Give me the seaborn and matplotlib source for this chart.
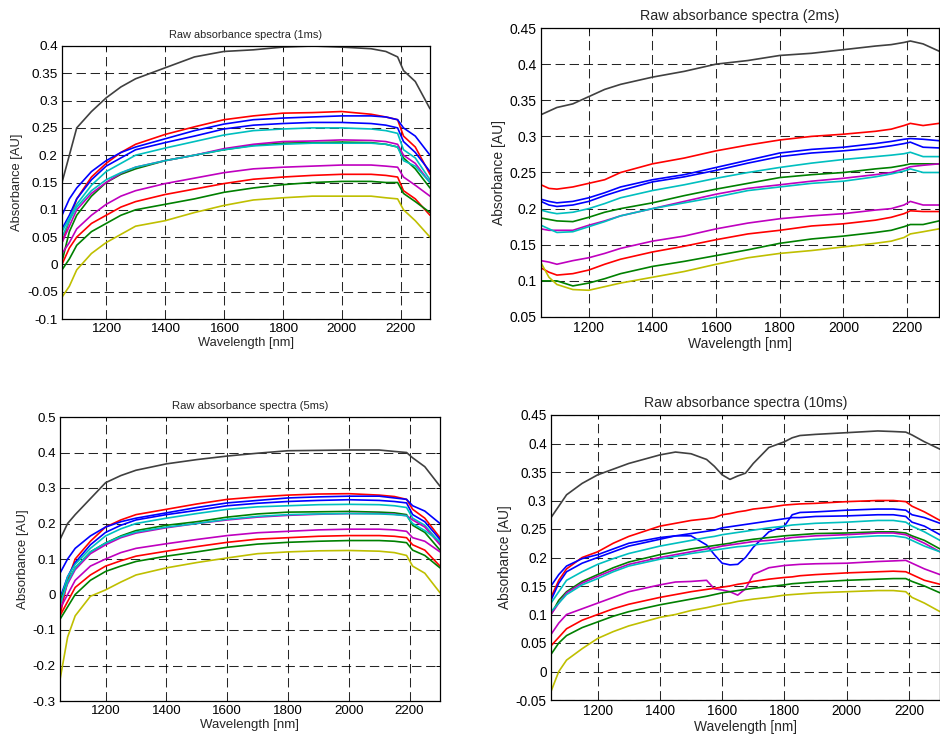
import numpy as np
import pandas as pd
import matplotlib
matplotlib.use("Agg")
import matplotlib.pyplot as plt
from matplotlib.ticker import FuncFormatter
import seaborn as sns

# ---------------- data ----------------
series_names = ["gray", "red1", "blue1", "blue2", "cyan1", "green1",
                "magenta1", "cyan2", "magenta2", "red2", "green2", "yellow"]
series_colors = ["#404040", "#ff0000", "#0000ff", "#0000ff", "#00bfbf", "#008000",
                 "#bf00bf", "#00bfbf", "#bf00bf", "#ff0000", "#008000", "#bfbf00"]

wl_a = [1050, 1075, 1100, 1150, 1200, 1250, 1300, 1400, 1500, 1600, 1700,
        1800, 1900, 2000, 2100, 2150, 2190, 2210, 2250, 2300]

# 1 ms
p1_gray = [0.15, 0.2, 0.25, 0.28, 0.305, 0.325, 0.34, 0.36, 0.38, 0.39, 0.393, 0.398, 0.40, 0.398, 0.395, 0.39, 0.38, 0.355, 0.335, 0.285]
p1_red1 = [0.04, 0.08, 0.12, 0.16, 0.185, 0.205, 0.22, 0.238, 0.252, 0.265, 0.272, 0.277, 0.278, 0.28, 0.275, 0.27, 0.265, 0.235, 0.215, 0.165]
p1_blue1 = [0.09, 0.12, 0.14, 0.17, 0.19, 0.205, 0.215, 0.23, 0.245, 0.257, 0.265, 0.268, 0.27, 0.272, 0.272, 0.27, 0.265, 0.25, 0.235, 0.20]
p1_blue2 = [0.065, 0.09, 0.12, 0.155, 0.18, 0.195, 0.21, 0.223, 0.235, 0.248, 0.255, 0.258, 0.26, 0.26, 0.258, 0.255, 0.25, 0.225, 0.205, 0.17]
p1_cyan1 = [0.06, 0.085, 0.11, 0.145, 0.17, 0.185, 0.2, 0.213, 0.225, 0.237, 0.245, 0.248, 0.25, 0.25, 0.248, 0.245, 0.24, 0.21, 0.195, 0.155]
p1_green1 = [0.005, 0.06, 0.09, 0.125, 0.15, 0.165, 0.175, 0.19, 0.2, 0.21, 0.218, 0.222, 0.223, 0.224, 0.223, 0.22, 0.215, 0.195, 0.175, 0.14]
p1_magenta1 = [0.04, 0.07, 0.1, 0.13, 0.15, 0.167, 0.178, 0.19, 0.2, 0.212, 0.22, 0.225, 0.226, 0.228, 0.227, 0.225, 0.22, 0.2, 0.185, 0.15]
p1_cyan2 = [0.05, 0.08, 0.105, 0.135, 0.155, 0.168, 0.178, 0.19, 0.2, 0.21, 0.217, 0.22, 0.222, 0.222, 0.222, 0.22, 0.215, 0.19, 0.18, 0.15]
p1_magenta2 = [0.02, 0.04, 0.065, 0.09, 0.11, 0.125, 0.135, 0.148, 0.158, 0.168, 0.175, 0.178, 0.18, 0.182, 0.182, 0.18, 0.178, 0.16, 0.145, 0.125]
p1_red2 = [0.0, 0.03, 0.05, 0.075, 0.09, 0.105, 0.115, 0.128, 0.138, 0.148, 0.156, 0.16, 0.163, 0.165, 0.165, 0.163, 0.16, 0.135, 0.12, 0.09]
p1_green2 = [-0.01, 0.01, 0.035, 0.06, 0.075, 0.09, 0.1, 0.11, 0.12, 0.132, 0.14, 0.146, 0.15, 0.152, 0.152, 0.15, 0.15, 0.13, 0.115, 0.095]
p1_yellow = [-0.06, -0.04, -0.01, 0.02, 0.04, 0.055, 0.07, 0.08, 0.095, 0.108, 0.118, 0.122, 0.125, 0.125, 0.125, 0.122, 0.12, 0.1, 0.08, 0.05]

# 2 ms
p2_gray = [0.33, 0.335, 0.34, 0.345, 0.355, 0.365, 0.372, 0.382, 0.39, 0.40, 0.405, 0.412, 0.415, 0.42, 0.425, 0.427, 0.43, 0.432, 0.428, 0.418]
p2_red1 = [0.233, 0.228, 0.227, 0.23, 0.235, 0.24, 0.25, 0.262, 0.27, 0.28, 0.288, 0.295, 0.30, 0.303, 0.307, 0.31, 0.315, 0.318, 0.315, 0.318]
p2_blue1 = [0.213, 0.21, 0.208, 0.21, 0.215, 0.222, 0.23, 0.24, 0.247, 0.257, 0.267, 0.277, 0.282, 0.285, 0.29, 0.293, 0.296, 0.297, 0.296, 0.294]
p2_blue2 = [0.21, 0.205, 0.203, 0.205, 0.21, 0.218, 0.225, 0.237, 0.244, 0.253, 0.263, 0.272, 0.277, 0.28, 0.284, 0.287, 0.29, 0.292, 0.285, 0.284]
p2_cyan1 = [0.198, 0.195, 0.193, 0.195, 0.2, 0.207, 0.215, 0.225, 0.233, 0.242, 0.25, 0.257, 0.263, 0.268, 0.272, 0.274, 0.276, 0.278, 0.272, 0.272]
p2_green1 = [0.187, 0.185, 0.183, 0.182, 0.188, 0.195, 0.2, 0.208, 0.218, 0.227, 0.235, 0.243, 0.247, 0.25, 0.255, 0.257, 0.26, 0.262, 0.262, 0.262]
p2_magenta1 = [0.172, 0.17, 0.17, 0.17, 0.177, 0.183, 0.19, 0.2, 0.21, 0.22, 0.228, 0.233, 0.238, 0.242, 0.247, 0.25, 0.255, 0.258, 0.26, 0.262]
p2_cyan2 = [0.177, 0.172, 0.167, 0.168, 0.175, 0.182, 0.19, 0.2, 0.208, 0.216, 0.225, 0.23, 0.235, 0.238, 0.244, 0.248, 0.252, 0.255, 0.25, 0.25]
p2_magenta2 = [0.128, 0.126, 0.123, 0.128, 0.132, 0.138, 0.145, 0.155, 0.162, 0.172, 0.18, 0.186, 0.19, 0.193, 0.198, 0.2, 0.205, 0.21, 0.205, 0.205]
p2_red2 = [0.118, 0.112, 0.108, 0.11, 0.115, 0.123, 0.13, 0.14, 0.148, 0.157, 0.165, 0.17, 0.176, 0.179, 0.184, 0.188, 0.193, 0.197, 0.196, 0.196]
p2_green2 = [0.1, 0.1, 0.1, 0.093, 0.097, 0.103, 0.11, 0.12, 0.127, 0.135, 0.143, 0.152, 0.158, 0.162, 0.167, 0.17, 0.175, 0.178, 0.178, 0.183]
p2_yellow = [0.125, 0.105, 0.095, 0.088, 0.087, 0.092, 0.097, 0.105, 0.113, 0.123, 0.132, 0.138, 0.142, 0.147, 0.152, 0.155, 0.16, 0.165, 0.168, 0.172]

# 5 ms
p3_gray = [0.155, 0.2, 0.225, 0.27, 0.315, 0.335, 0.35, 0.368, 0.38, 0.39, 0.398, 0.405, 0.406, 0.407, 0.407, 0.403, 0.4, 0.385, 0.36, 0.305]
p3_red1 = [-0.06, 0.04, 0.1, 0.15, 0.19, 0.21, 0.225, 0.24, 0.255, 0.268, 0.275, 0.28, 0.283, 0.284, 0.28, 0.276, 0.268, 0.24, 0.215, 0.16]
p3_blue1 = [0.06, 0.1, 0.13, 0.165, 0.19, 0.205, 0.215, 0.23, 0.245, 0.258, 0.265, 0.272, 0.275, 0.277, 0.277, 0.272, 0.268, 0.25, 0.235, 0.2]
p3_blue2 = [-0.01, 0.05, 0.09, 0.14, 0.175, 0.195, 0.21, 0.225, 0.237, 0.25, 0.257, 0.262, 0.265, 0.267, 0.265, 0.262, 0.258, 0.225, 0.205, 0.155]
p3_cyan1 = [-0.02, 0.05, 0.085, 0.13, 0.165, 0.185, 0.2, 0.215, 0.228, 0.24, 0.247, 0.25, 0.253, 0.254, 0.253, 0.25, 0.245, 0.215, 0.195, 0.145]
p3_green1 = [-0.02, 0.035, 0.075, 0.12, 0.145, 0.165, 0.18, 0.195, 0.205, 0.218, 0.227, 0.232, 0.233, 0.234, 0.232, 0.23, 0.225, 0.195, 0.175, 0.125]
p3_magenta1 = [-0.03, 0.03, 0.07, 0.115, 0.14, 0.16, 0.173, 0.188, 0.2, 0.21, 0.218, 0.223, 0.226, 0.228, 0.228, 0.226, 0.222, 0.21, 0.19, 0.14]
p3_cyan2 = [-0.03, 0.035, 0.075, 0.12, 0.145, 0.163, 0.176, 0.19, 0.2, 0.212, 0.22, 0.225, 0.227, 0.228, 0.227, 0.225, 0.222, 0.2, 0.18, 0.15]
p3_magenta2 = [-0.04, 0.0, 0.04, 0.08, 0.1, 0.118, 0.13, 0.143, 0.155, 0.166, 0.174, 0.178, 0.182, 0.184, 0.184, 0.182, 0.178, 0.16, 0.15, 0.12]
p3_red2 = [-0.06, -0.02, 0.02, 0.055, 0.08, 0.095, 0.108, 0.122, 0.135, 0.147, 0.156, 0.16, 0.164, 0.166, 0.166, 0.164, 0.16, 0.14, 0.125, 0.08]
p3_green2 = [-0.07, -0.035, 0.0, 0.04, 0.065, 0.08, 0.093, 0.108, 0.12, 0.133, 0.142, 0.147, 0.15, 0.152, 0.152, 0.15, 0.146, 0.125, 0.11, 0.075]
p3_yellow = [-0.24, -0.12, -0.06, -0.005, 0.013, 0.035, 0.055, 0.075, 0.09, 0.103, 0.115, 0.12, 0.123, 0.124, 0.122, 0.118, 0.11, 0.08, 0.06, 0.005]

# 10 ms
wl_b = [1050, 1075, 1100, 1150, 1200, 1250, 1300, 1400, 1450, 1500, 1550, 1575, 1600, 1625, 1650,
        1675, 1700, 1750, 1800, 1825, 1850, 1900, 2000, 2100, 2150, 2190, 2210, 2250, 2300]
p4_gray = [0.27, 0.29, 0.31, 0.33, 0.345, 0.355, 0.365, 0.38, 0.385, 0.382, 0.372, 0.36, 0.345, 0.337, 0.343, 0.348, 0.365, 0.393, 0.403, 0.41, 0.414, 0.416, 0.419, 0.422, 0.421, 0.42, 0.415, 0.403, 0.39]
p4_red1 = [0.13, 0.16, 0.18, 0.2, 0.21, 0.225, 0.237, 0.255, 0.26, 0.265, 0.268, 0.27, 0.275, 0.277, 0.28, 0.282, 0.285, 0.288, 0.292, 0.293, 0.294, 0.295, 0.298, 0.3, 0.3, 0.298, 0.29, 0.28, 0.265]
p4_blue1 = [0.15, 0.17, 0.185, 0.198, 0.205, 0.215, 0.225, 0.235, 0.238, 0.242, 0.246, 0.248, 0.252, 0.254, 0.256, 0.258, 0.26, 0.264, 0.268, 0.27, 0.27, 0.272, 0.273, 0.275, 0.275, 0.272, 0.262, 0.255, 0.24]
p4_blue2 = [0.125, 0.155, 0.175, 0.19, 0.2, 0.21, 0.22, 0.232, 0.238, 0.238, 0.222, 0.205, 0.19, 0.187, 0.188, 0.2, 0.218, 0.245, 0.255, 0.275, 0.279, 0.28, 0.283, 0.285, 0.285, 0.283, 0.275, 0.27, 0.26]
p4_cyan1 = [0.12, 0.14, 0.16, 0.175, 0.188, 0.198, 0.207, 0.22, 0.225, 0.23, 0.235, 0.237, 0.24, 0.242, 0.244, 0.246, 0.248, 0.252, 0.255, 0.257, 0.258, 0.26, 0.262, 0.265, 0.265, 0.262, 0.255, 0.245, 0.23]
p4_green1 = [0.1, 0.125, 0.14, 0.158, 0.17, 0.182, 0.192, 0.205, 0.21, 0.215, 0.219, 0.221, 0.223, 0.225, 0.228, 0.23, 0.232, 0.235, 0.238, 0.239, 0.24, 0.242, 0.243, 0.245, 0.245, 0.243, 0.238, 0.23, 0.215]
p4_magenta1 = [0.1, 0.12, 0.138, 0.155, 0.167, 0.178, 0.188, 0.2, 0.205, 0.21, 0.215, 0.217, 0.22, 0.222, 0.224, 0.226, 0.228, 0.23, 0.233, 0.235, 0.236, 0.238, 0.24, 0.243, 0.243, 0.24, 0.235, 0.225, 0.21]
p4_cyan2 = [0.105, 0.12, 0.135, 0.152, 0.163, 0.175, 0.185, 0.197, 0.202, 0.207, 0.211, 0.213, 0.215, 0.217, 0.219, 0.22, 0.222, 0.225, 0.228, 0.229, 0.23, 0.232, 0.235, 0.238, 0.238, 0.235, 0.23, 0.22, 0.21]
p4_magenta2 = [0.065, 0.085, 0.1, 0.11, 0.12, 0.13, 0.14, 0.152, 0.157, 0.158, 0.16, 0.145, 0.143, 0.14, 0.134, 0.145, 0.17, 0.182, 0.186, 0.187, 0.188, 0.189, 0.19, 0.193, 0.194, 0.195, 0.19, 0.18, 0.17]
p4_red2 = [0.045, 0.06, 0.075, 0.09, 0.1, 0.11, 0.118, 0.13, 0.135, 0.14, 0.144, 0.146, 0.148, 0.15, 0.153, 0.155, 0.158, 0.162, 0.165, 0.166, 0.168, 0.17, 0.173, 0.175, 0.176, 0.175, 0.17, 0.16, 0.153]
p4_green2 = [0.03, 0.05, 0.063, 0.077, 0.087, 0.097, 0.105, 0.117, 0.122, 0.127, 0.132, 0.135, 0.138, 0.14, 0.142, 0.144, 0.146, 0.149, 0.152, 0.154, 0.155, 0.157, 0.16, 0.162, 0.163, 0.163, 0.158, 0.15, 0.138]
p4_yellow = [-0.035, 0.0, 0.02, 0.04, 0.058, 0.07, 0.08, 0.095, 0.1, 0.107, 0.112, 0.115, 0.118, 0.12, 0.123, 0.125, 0.127, 0.13, 0.134, 0.135, 0.136, 0.138, 0.14, 0.142, 0.142, 0.14, 0.13, 0.12, 0.105]

titles = ["Raw absorbance spectra (1ms)", "Raw absorbance spectra (2ms)",
          "Raw absorbance spectra (5ms)", "Raw absorbance spectra (10ms)"]
x_ticks = [1200, 1400, 1600, 1800, 2000, 2200]
y_ticks_1 = [-0.1, -0.05, 0, 0.05, 0.1, 0.15, 0.2, 0.25, 0.3, 0.35, 0.4]
y_ticks_2 = [0.05, 0.1, 0.15, 0.2, 0.25, 0.3, 0.35, 0.4, 0.45]
y_ticks_3 = [-0.3, -0.2, -0.1, 0, 0.1, 0.2, 0.3, 0.4, 0.5]
y_ticks_4 = [-0.05, 0, 0.05, 0.1, 0.15, 0.2, 0.25, 0.3, 0.35, 0.4, 0.45]

panels = [
    (wl_a, [p1_gray, p1_red1, p1_blue1, p1_blue2, p1_cyan1, p1_green1, p1_magenta1, p1_cyan2, p1_magenta2, p1_red2, p1_green2, p1_yellow], y_ticks_1),
    (wl_a, [p2_gray, p2_red1, p2_blue1, p2_blue2, p2_cyan1, p2_green1, p2_magenta1, p2_cyan2, p2_magenta2, p2_red2, p2_green2, p2_yellow], y_ticks_2),
    (wl_a, [p3_gray, p3_red1, p3_blue1, p3_blue2, p3_cyan1, p3_green1, p3_magenta1, p3_cyan2, p3_magenta2, p3_red2, p3_green2, p3_yellow], y_ticks_3),
    (wl_b, [p4_gray, p4_red1, p4_blue1, p4_blue2, p4_cyan1, p4_green1, p4_magenta1, p4_cyan2, p4_magenta2, p4_red2, p4_green2, p4_yellow], y_ticks_4),
]

# ---------------- style ----------------
sns.set_style("white")
plt.rcParams["font.family"] = ["Liberation Sans", "DejaVu Sans"]

W, H = 940, 736
fig = plt.figure(figsize=(W / 100, H / 100), dpi=100)

# axes boxes in pixels: left, right, top, bottom
boxes = [(62, 430, 46, 319), (541, 939, 28, 317), (60, 440, 417, 701), (551, 940, 415, 700)]
tick_fs = [9.7, 10, 9.6, 9.8]
label_fs = [9.3, 10, 9.5, 9.9]
title_fs = [7.9, 10.3, 8.1, 10.1]

fmt = FuncFormatter(lambda v, p: "%g" % round(v, 3))

for i, ((wl, ys, yt), (l, r, t, b)) in enumerate(zip(panels, boxes)):
    ax = fig.add_axes([l / W, 1 - b / H, (r - l) / W, (b - t) / H])
    rows = []
    for name, vals in zip(series_names, ys):
        for x, y in zip(wl, vals):
            rows.append((name, x, y))
    df = pd.DataFrame(rows, columns=["series", "wl", "abs"])
    sns.lineplot(data=df, x="wl", y="abs", hue="series", hue_order=series_names,
                 palette=series_colors, estimator=None, sort=False, legend=False,
                 linewidth=1.2, ax=ax)
    ax.set_xlim(1050, 2300)
    ax.set_ylim(yt[0], yt[-1])
    ax.set_xticks(x_ticks)
    ax.set_yticks(yt)
    ax.yaxis.set_major_formatter(fmt)
    ax.xaxis.set_major_formatter(fmt)
    ax.grid(True, color="black", linestyle=(0, (9, 4.5)), linewidth=0.75, alpha=0.85)
    ax.set_axisbelow(True)
    for s in ax.spines.values():
        s.set_visible(True)
        s.set_color("black")
        s.set_linewidth(0.9)
    ax.tick_params(direction="in", length=3, width=0.7, top=True, right=True,
                   labelsize=tick_fs[i], colors="black", pad=3)
    ax.set_xlabel("Wavelength [nm]", fontsize=label_fs[i], labelpad=1)
    ax.set_ylabel("Absorbance [AU]", fontsize=label_fs[i], labelpad=3)
    ax.set_title(titles[i], fontsize=title_fs[i], pad=6)

fig.savefig("out.png", dpi=100)
